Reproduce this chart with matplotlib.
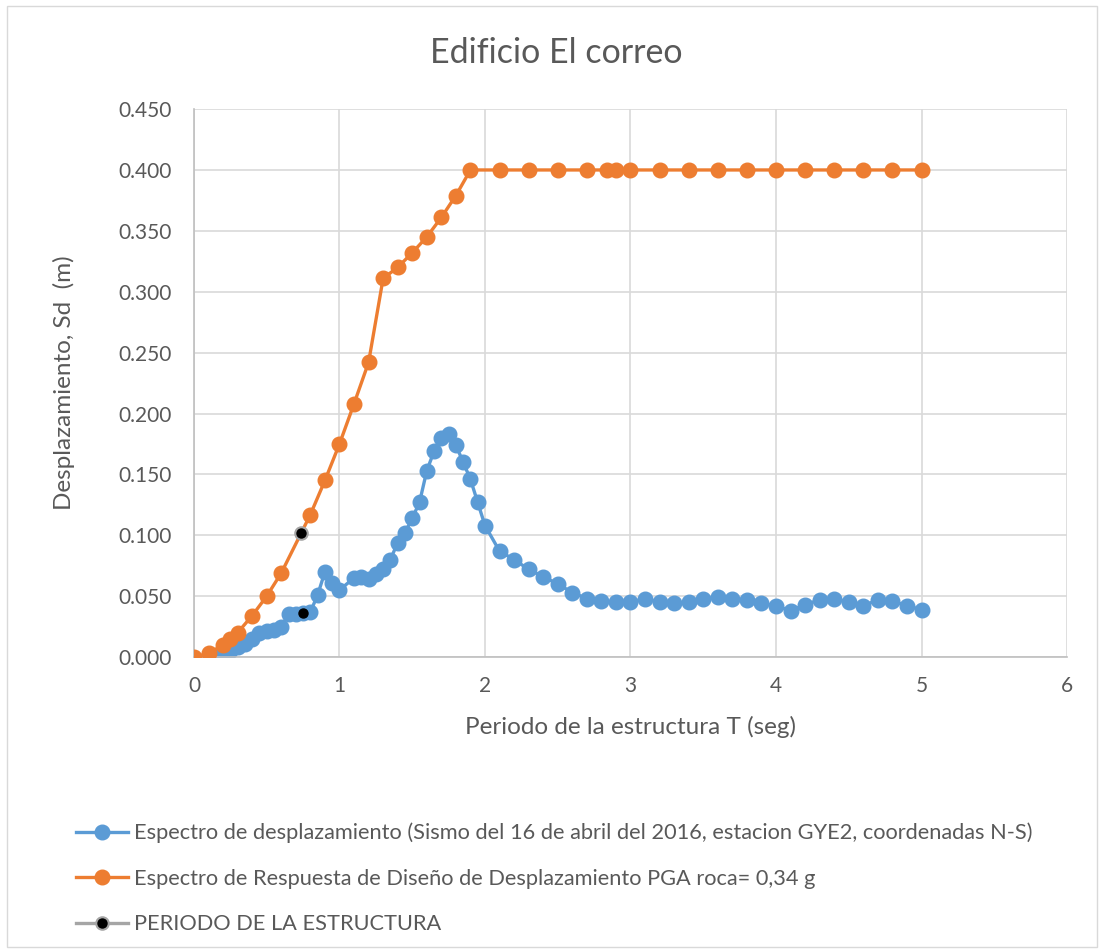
import matplotlib as mpl
mpl.use('Agg')
import matplotlib.pyplot as plt
from matplotlib.lines import Line2D
from matplotlib.patches import Rectangle
from matplotlib.ticker import FormatStrFormatter, MultipleLocator

plt.rcParams['font.family'] = ['Lato', 'DejaVu Sans']

# blue: recorded displacement spectrum
t_rec = [0.1, 0.15, 0.2, 0.25, 0.3, 0.35, 0.4, 0.45, 0.5, 0.55, 0.6, 0.65, 0.7, 0.75,
         0.8, 0.85, 0.9, 0.95, 1.0, 1.1, 1.15, 1.2, 1.25, 1.3, 1.35, 1.4, 1.45, 1.5,
         1.55, 1.6, 1.65, 1.7, 1.75, 1.8, 1.85, 1.9, 1.95, 2.0, 2.1, 2.2, 2.3, 2.4,
         2.5, 2.6, 2.7, 2.8, 2.9, 3.0, 3.1, 3.2, 3.3, 3.4, 3.5, 3.6, 3.7, 3.8, 3.9,
         4.0, 4.1, 4.2, 4.3, 4.4, 4.5, 4.6, 4.7, 4.8, 4.9, 5.0]
sd_rec = [0.000, 0.001, 0.002, 0.005, 0.008, 0.011, 0.015, 0.020, 0.021, 0.022, 0.025,
          0.035, 0.035, 0.036, 0.037, 0.051, 0.070, 0.061, 0.055, 0.065, 0.066, 0.064,
          0.068, 0.072, 0.080, 0.094, 0.102, 0.114, 0.127, 0.153, 0.169, 0.180, 0.183,
          0.174, 0.160, 0.146, 0.127, 0.108, 0.087, 0.080, 0.072, 0.066, 0.060, 0.053,
          0.048, 0.046, 0.045, 0.045, 0.048, 0.045, 0.044, 0.045, 0.048, 0.049, 0.048,
          0.047, 0.044, 0.042, 0.038, 0.043, 0.047, 0.048, 0.045, 0.042, 0.047, 0.046,
          0.042, 0.039]

# orange: design displacement spectrum
t_dis = [0.0, 0.1, 0.2, 0.25, 0.3, 0.4, 0.5, 0.6, 0.8, 0.9, 1.0, 1.1, 1.2, 1.3, 1.4,
         1.5, 1.6, 1.7, 1.8, 1.9, 2.1, 2.3, 2.5, 2.7, 2.84, 2.9, 3.0, 3.2, 3.4, 3.6,
         3.8, 4.0, 4.2, 4.4, 4.6, 4.8, 5.0]
sd_dis = [0.000, 0.003, 0.010, 0.015, 0.020, 0.034, 0.050, 0.069, 0.117, 0.145, 0.175,
          0.208, 0.242, 0.311, 0.320, 0.332, 0.345, 0.361, 0.379, 0.400, 0.400, 0.400,
          0.400, 0.400, 0.400, 0.400, 0.400, 0.400, 0.400, 0.400, 0.400, 0.400, 0.400,
          0.400, 0.400, 0.400, 0.400]

# black: period of the structure
t_est = [0.735, 0.75]
sd_est = [0.102, 0.036]

blue = "#5b9bd5"
orange = "#ed7d31"
gray = "#a5a5a5"
txt = "#595959"

DPI = 100
fig = plt.figure(figsize=(1104/DPI, 951/DPI), dpi=DPI)
fig.patches.append(Rectangle((0.006, 0.004), 0.988, 0.99, transform=fig.transFigure,
                             fill=False, edgecolor="#d9d9d9", linewidth=1))
ax = fig.add_axes([0.1757, 0.3091, 0.7908, 0.5762])

ax.plot(t_dis, sd_dis, color=orange, linewidth=2.4, marker='o', markersize=10.5, zorder=3)
ax.plot(t_rec, sd_rec, color=blue, linewidth=2.4, marker='o', markersize=10.5, zorder=2)
ax.plot(t_est[:1], sd_est[:1], linestyle='none', marker='o', markersize=9,
        markerfacecolor='black', markeredgecolor=gray, markeredgewidth=1.5, zorder=4)
ax.plot(t_est[1:], sd_est[1:], linestyle='none', marker='o', markersize=6.5,
        markerfacecolor='black', markeredgecolor='black', zorder=4)

ax.set_xlim(0, 6)
ax.set_ylim(0, 0.45)
ax.xaxis.set_major_locator(MultipleLocator(1))
ax.yaxis.set_major_locator(MultipleLocator(0.05))
ax.yaxis.set_major_formatter(FormatStrFormatter('%.3f'))
ax.grid(color="#d9d9d9", linewidth=1.2)
ax.set_axisbelow(True)
for s in ['top', 'right']:
    ax.spines[s].set_visible(False)
for s in ['left', 'bottom']:
    ax.spines[s].set_color("#bfbfbf")
    ax.spines[s].set_linewidth(1.2)
ax.tick_params(axis='y', length=0, labelsize=15, colors=txt, pad=16)
ax.tick_params(axis='x', length=0, labelsize=15, colors=txt, pad=14)

fig.text(0.5036, 1 - 53/951, "Edificio El correo", fontsize=24.5, color=txt,
         ha='center', va='center')
ax.set_xlabel("Periodo de la estructura T (seg)", fontsize=17.5, color=txt, labelpad=14)
ax.set_ylabel("Desplazamiento, Sd  (m)", fontsize=17.5, color=txt, labelpad=31)

handles = [
    Line2D([], [], color=blue, linewidth=2.4, marker='o', markersize=10.5),
    Line2D([], [], color=orange, linewidth=2.4, marker='o', markersize=10.5),
    Line2D([], [], color=gray, linewidth=2.4, marker='o', markersize=9,
           markerfacecolor='black', markeredgecolor=gray, markeredgewidth=1.5),
]
labels = [
    "Espectro de desplazamiento (Sismo del 16 de abril del 2016, estacion GYE2, coordenadas N-S)",
    "Espectro de Respuesta de Diseño de Desplazamiento PGA roca= 0,34 g",
    "PERIODO DE LA ESTRUCTURA",
]
leg = fig.legend(handles, labels, loc='upper left', bbox_to_anchor=(0.051, 0.1555),
                 frameon=False, fontsize=15.7, labelcolor=txt, handlelength=2.4,
                 handletextpad=0.25, labelspacing=1.17)

fig.savefig("out.png", dpi=DPI)
